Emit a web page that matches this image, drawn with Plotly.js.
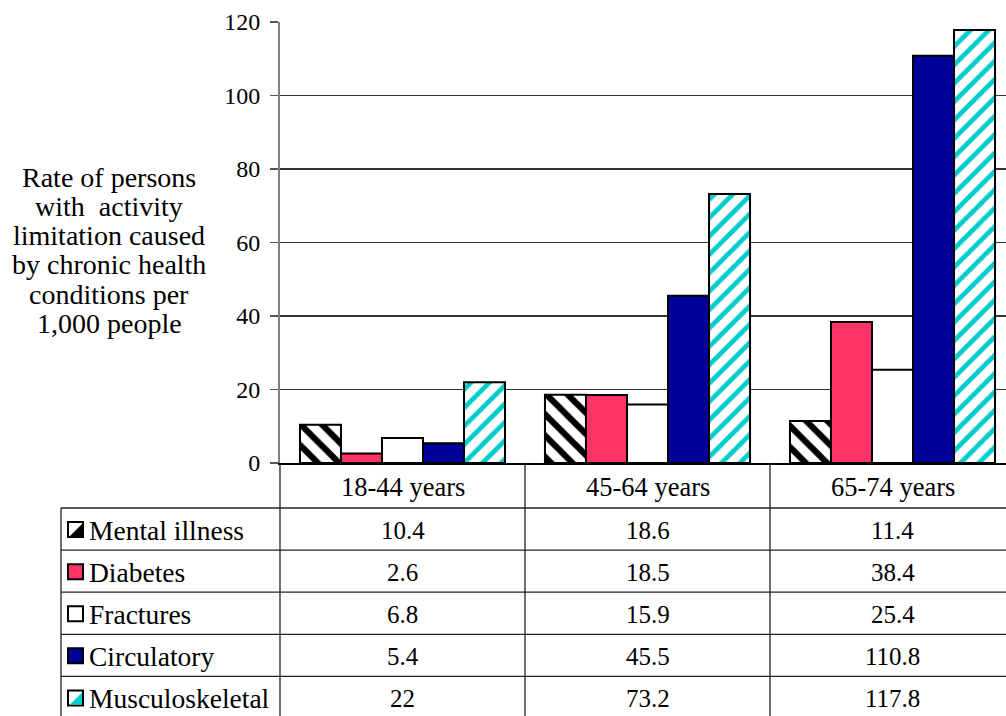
<!DOCTYPE html>
<html>
<head>
<meta charset="utf-8">
<script src="https://cdn.plot.ly/plotly-3.0.1.min.js"></script>
<style>
  html, body { margin: 0; padding: 0; overflow: hidden; background: #fff; }
  #chart { width: 1020px; height: 716px; }
</style>
</head>
<body>
<div id="chart"></div>
<script>
// Age groups and rates per 1,000 people
const ageGroups = ['18-44 years', '45-64 years', '65-74 years'];
const seriesNames = ['Mental illness', 'Diabetes', 'Fractures', 'Circulatory', 'Musculoskeletal'];
const mentalIllness = [10.4, 18.6, 11.4];
const diabetes = [2.6, 18.5, 38.4];
const fractures = [6.8, 15.9, 25.4];
const circulatory = [5.4, 45.5, 110.8];
const musculoskeletal = [22, 73.2, 117.8];
const yTitleLines = ['Rate of persons', 'with  activity', 'limitation caused',
                     'by chronic health', 'conditions per', '1,000 people'];

const seriesValues = [mentalIllness, diabetes, fractures, circulatory, musculoskeletal];

// Layout geometry (pixels)
const W = 1020, H = 716;
const plotL = 280, plotR = 1015, plotT = 22, plotB = 463;
const plotW = plotR - plotL, plotH = plotB - plotT;
const px = x => (x - plotL) / plotW;          // pixel x -> paper x
const py = y => (plotB - y) / plotH;          // pixel y -> paper y

const FONT = '"Liberation Serif", "DejaVu Serif", serif';
const ink = '#000';

const styles = [
  { color: '#ffffff', pattern: { shape: '\\', fgcolor: '#000', bgcolor: '#fff', fgopacity: 1, size: 15, solidity: 0.42, fillmode: 'replace' } },
  { color: '#ff3366' },
  { color: '#ffffff' },
  { color: '#000099' },
  { color: '#ffffff', pattern: { shape: '/', fgcolor: '#00cccc', bgcolor: '#fff', fgopacity: 1, size: 13, solidity: 0.36, fillmode: 'replace' } }
];

const traces = seriesNames.map((name, i) => {
  const marker = { color: styles[i].color, line: { color: ink, width: 2 } };
  if (styles[i].pattern) marker.pattern = styles[i].pattern;
  return {
    type: 'bar', name: name, x: ageGroups, y: seriesValues[i],
    marker: marker, hoverinfo: 'name+y'
  };
});

// Data table below the plot
const headerTop = plotB, headerBot = 508, rowH = 42.1;
const tableLeft = 61;
const shapes = [];
const annotations = [];
const lineStyle = { color: '#222', width: 1.3 };

// horizontal rules
for (let r = 0; r < 6; r++) {
  const y = headerBot + r * rowH;
  shapes.push({ type: 'line', xref: 'paper', yref: 'paper',
    x0: px(tableLeft), x1: px(plotR), y0: py(y), y1: py(y), line: lineStyle });
}
// vertical rules
shapes.push({ type: 'line', xref: 'paper', yref: 'paper',
  x0: px(tableLeft), x1: px(tableLeft), y0: py(headerBot), y1: py(H + 5), line: lineStyle });
shapes.push({ type: 'line', xref: 'paper', yref: 'paper',
  x0: 0, x1: 0, y0: 0, y1: py(H + 5), line: lineStyle });
for (let c = 0; c < ageGroups.length; c++) {
  shapes.push({ type: 'line', xref: 'x', yref: 'paper',
    x0: c + 0.5, x1: c + 0.5, y0: 0, y1: py(H + 5), line: lineStyle });
}

// column headers
ageGroups.forEach((g, c) => {
  annotations.push({ xref: 'x', yref: 'paper', x: c, y: py((headerTop + headerBot) / 2 + 1),
    text: g, showarrow: false, xanchor: 'center', yanchor: 'middle',
    font: { family: FONT, size: 26.5, color: ink } });
});

// rows: legend key, series name, values
seriesNames.forEach((name, r) => {
  const top = headerBot + r * rowH;
  const mid = top + rowH / 2 + 1.5;
  annotations.push({ xref: 'paper', yref: 'paper', x: px(87), y: py(mid),
    text: name, showarrow: false, xanchor: 'left', yanchor: 'middle',
    font: { family: FONT, size: 27.5, color: ink } });
  seriesValues[r].forEach((v, c) => {
    annotations.push({ xref: 'x', yref: 'paper', x: c, y: py(mid),
      text: String(v), showarrow: false, xanchor: 'center', yanchor: 'middle',
      font: { family: FONT, size: 25, color: ink } });
  });
  // legend key square
  const k0 = 68, k1 = 83, kc = mid - 1;
  const ky0 = kc - 7.5, ky1 = kc + 7.5;
  const keyFill = (r === 1) ? '#ff3366' : (r === 3) ? '#000099' : '#ffffff';
  shapes.push({ type: 'rect', xref: 'paper', yref: 'paper',
    x0: px(k0), x1: px(k1), y0: py(ky1), y1: py(ky0),
    fillcolor: keyFill, line: { color: ink, width: 2 } });
  if (r === 0 || r === 4) {
    const tri = r === 0 ? '#000' : '#00cccc';
    const path = `M ${px(k1 - 1)} ${py(ky0 + 2)} L ${px(k1 - 1)} ${py(ky1 - 1)} L ${px(k0 + 2)} ${py(ky1 - 1)} Z`;
    shapes.push({ type: 'path', xref: 'paper', yref: 'paper', path: path,
      fillcolor: tri, line: { width: 0 } });
  }
});

// multi-line y-axis title
yTitleLines.forEach((t, i) => {
  annotations.push({ xref: 'paper', yref: 'paper', x: px(109), y: py(177 + i * 29.3),
    text: t, showarrow: false, xanchor: 'center', yanchor: 'middle',
    font: { family: FONT, size: 28, color: ink } });
});

const layout = {
  width: W, height: H,
  margin: { l: plotL, r: W - plotR, t: plotT, b: H - plotB },
  paper_bgcolor: '#fff', plot_bgcolor: '#fff',
  barmode: 'group', bargap: 0.163, bargroupgap: 0,
  showlegend: false,
  font: { family: FONT, size: 24, color: ink },
  xaxis: {
    type: 'category', range: [-0.5, 2.5], showticklabels: false, ticks: '',
    showgrid: false, zeroline: false, showline: true, linecolor: ink, linewidth: 1.5
  },
  yaxis: {
    range: [0, 120], dtick: 20, tick0: 0, ticks: 'outside', ticklen: 8,
    tickcolor: '#555', tickwidth: 1.5, ticklabelstandoff: 5,
    showgrid: true, gridcolor: '#333', gridwidth: 1.2,
    showline: true, linecolor: '#808080', linewidth: 2, zeroline: false,
    tickfont: { family: FONT, size: 24, color: ink }
  },
  shapes: shapes,
  annotations: annotations
};

Plotly.newPlot('chart', traces, layout, { displayModeBar: false, staticPlot: true });
</script>
</body>
</html>
